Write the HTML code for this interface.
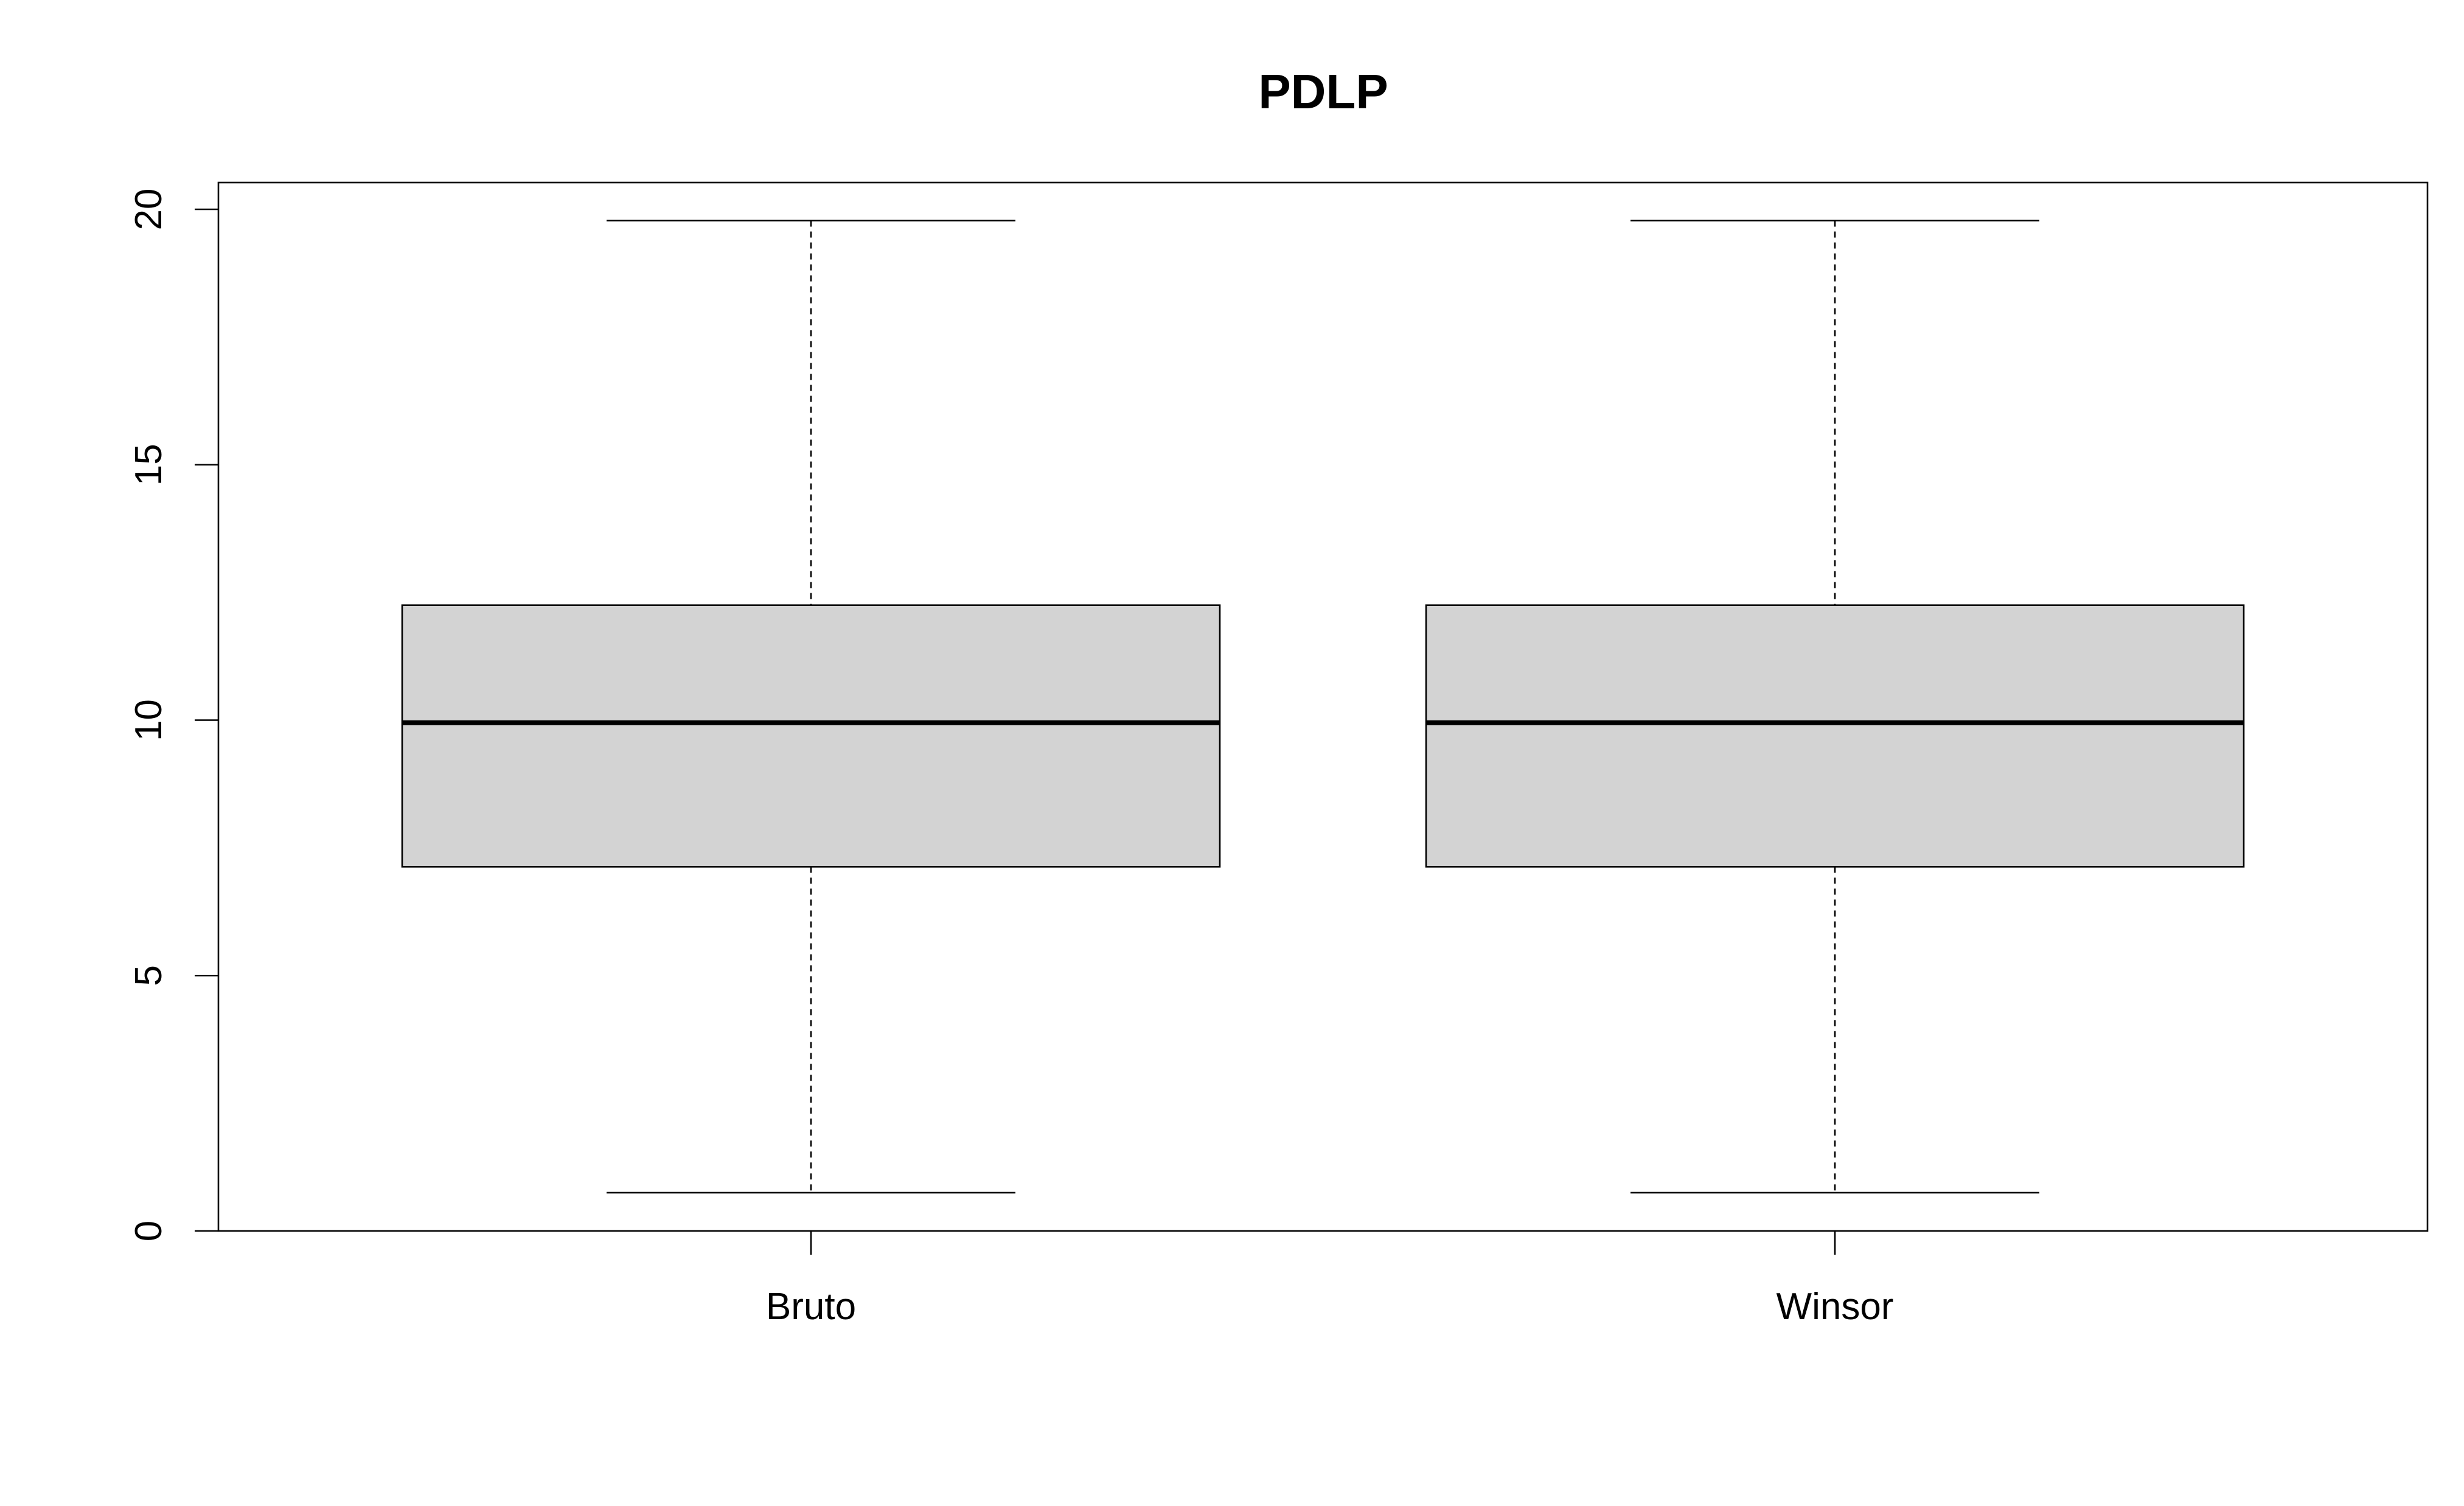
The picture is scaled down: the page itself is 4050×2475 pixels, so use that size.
<!DOCTYPE html>
<html><head><meta charset="utf-8"><style>
html,body{margin:0;padding:0;background:#fff;}
svg{display:block;font-family:"Liberation Sans",Arial,sans-serif;}
</style></head><body>
<svg id="chart" width="4050" height="2475" viewBox="0 0 4050 2475" xmlns="http://www.w3.org/2000/svg">
<rect width="4050" height="2475" fill="#fff"/>
<text x="2175" y="178" font-size="80" font-weight="bold" text-anchor="middle">PDLP</text>
<rect x="359" y="300" width="3631" height="1723" fill="none" stroke="#000" stroke-width="2.6"/>
<g id="marks"></g>
<g id="axes"></g>
</svg>
<script>
const categories = ["Bruto", "Winsor"];
const whiskerLow = [0.75, 0.75];
const q1 = [7.13, 7.13];
const median = [9.95, 9.95];
const q3 = [12.25, 12.25];
const whiskerHigh = [19.78, 19.78];
const yTicks = [0, 5, 10, 15, 20];

const NS = "http://www.w3.org/2000/svg";
function y(v){ return 2023 - (v/20)*(2023-344); }
function x(i){ return 1333 + i*(3016-1333); }
const boxHalf = 672, capHalf = 336;
function mk(tag, attrs, parent){
  const e = document.createElementNS(NS, tag);
  for (const k in attrs) e.setAttribute(k, attrs[k]);
  parent.appendChild(e); return e;
}
const marks = document.getElementById('marks');
const axes = document.getElementById('axes');
categories.forEach((c,i)=>{
  const cx = x(i);
  const g = mk('g', {}, marks);
  
  
  const w1 = mk('line', {x1:cx, x2:cx, y1:y(whiskerHigh[i]), y2:y(q3[i]), stroke:'#000','stroke-width':2.6,'stroke-dasharray':'10 8'}, g);
  
  
  const w2 = mk('line', {x1:cx, x2:cx, y1:y(q1[i]), y2:y(whiskerLow[i]), stroke:'#000','stroke-width':2.6,'stroke-dasharray':'10 8'}, g);
  
  
  const c1 = mk('line', {x1:cx-capHalf, x2:cx+capHalf, y1:y(whiskerHigh[i]), y2:y(whiskerHigh[i]), stroke:'#000','stroke-width':2.6}, g);
  
  
  const c2 = mk('line', {x1:cx-capHalf, x2:cx+capHalf, y1:y(whiskerLow[i]), y2:y(whiskerLow[i]), stroke:'#000','stroke-width':2.6}, g);
  
  
  const r = mk('rect', {x:cx-boxHalf, y:y(q3[i]), width:2*boxHalf, height:y(q1[i])-y(q3[i]), fill:'#d3d3d3', stroke:'#000','stroke-width':2.6}, g);
  
  
  const m = mk('line', {x1:cx-boxHalf, x2:cx+boxHalf, y1:y(median[i]), y2:y(median[i]), stroke:'#000','stroke-width':8}, g);
  
  
  const t = mk('line', {x1:cx, x2:cx, y1:2023, y2:2062, stroke:'#000','stroke-width':2.6}, axes);
  
  
  const l = mk('text', {x:cx, y:2168, 'font-size':62, 'text-anchor':'middle'}, axes);
  l.textContent = c;
  
  
});
yTicks.forEach(v=>{
  const t = mk('line', {x1:320, x2:359, y1:y(v), y2:y(v), stroke:'#000','stroke-width':2.6}, axes);
  
  
  const l = mk('text', {x:0, y:0, 'font-size':62, 'text-anchor':'middle', transform:'translate(265,'+y(v)+') rotate(-90)'}, axes);
  l.textContent = v;
  
  
});
</script>
</body></html>
